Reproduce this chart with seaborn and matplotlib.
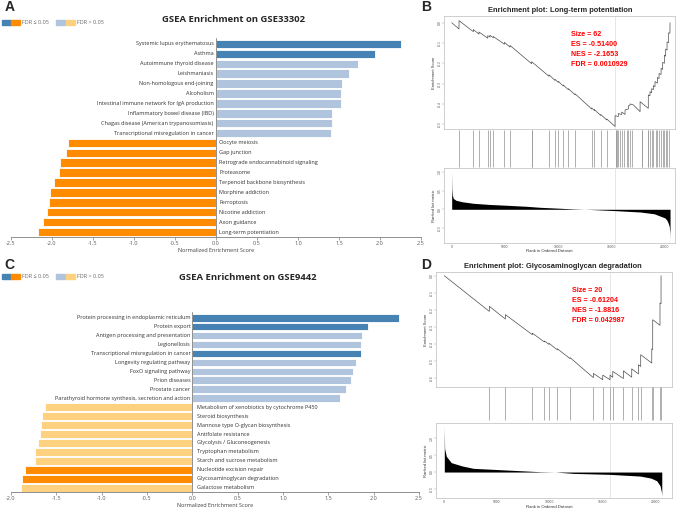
import matplotlib
matplotlib.use('Agg')
import matplotlib.pyplot as plt
import seaborn as sns
import pandas as pd
from matplotlib.patches import Patch
from matplotlib.legend_handler import HandlerTuple

# ---- panel A data (GSE33302) ----
terms_a = ['Systemic lupus erythematosus', 'Asthma', 'Autoimmune thyroid disease', 'Leishmaniasis',
           'Non-homologous end-joining', 'Alcoholism', 'Intestinal immune network for IgA production',
           'Inflammatory bowel disease (IBD)', 'Chagas disease (American trypanosomiasis)',
           'Transcriptional misregulation in cancer',
           'Oocyte meiosis', 'Gap junction', 'Retrograde endocannabinoid signaling', 'Proteasome',
           'Terpenoid backbone biosynthesis', 'Morphine addiction', 'Ferroptosis', 'Nicotine addiction',
           'Axon guidance', 'Long-term potentiation']
nes_a = [2.26, 1.94, 1.73, 1.62, 1.54, 1.53, 1.52, 1.41, 1.41, 1.40,
         -1.81, -1.83, -1.90, -1.91, -1.98, -2.03, -2.04, -2.06, -2.11, -2.17]
sig_a = [True, True, False, False, False, False, False, False, False, False,
         True, True, True, True, True, True, True, True, True, True]

# ---- panel C data (GSE9442) ----
terms_c = ['Protein processing in endoplasmic reticulum', 'Protein export', 'Antigen processing and presentation',
           'Legionellosis', 'Transcriptional misregulation in cancer', 'Longevity regulating pathway',
           'FoxO signaling pathway', 'Prion diseases', 'Prostate cancer',
           'Parathyroid hormone synthesis, secretion and action',
           'Metabolism of xenobiotics by cytochrome P450', 'Steroid biosynthesis',
           'Mannose type O-glycan biosynthesis', 'Antifolate resistance', 'Glycolysis / Gluconeogenesis',
           'Tryptophan metabolism', 'Starch and sucrose metabolism', 'Nucleotide excision repair',
           'Glycosaminoglycan degradation', 'Galactose metabolism']
nes_c = [2.28, 1.94, 1.87, 1.86, 1.86, 1.81, 1.77, 1.75, 1.69, 1.63,
         -1.63, -1.66, -1.67, -1.68, -1.70, -1.74, -1.74, -1.85, -1.88, -1.89]
sig_c = [True, True, False, False, True, False, False, False, False, False,
         False, False, False, False, False, False, False, True, True, False]

# ---- panel B data: Long-term potentiation ----
es_rank_b = [0, 685, 686, 2030, 2031, 2560, 2561, 3380, 3381, 3590, 3591, 3900, 3901, 4940, 4941,
             5470, 5471, 7500, 7501, 9130, 9131, 9690, 9691, 10000, 10001, 10470, 10471, 10940, 10941,
             11570, 11571, 13130, 13131, 13380, 13381, 13980, 13981, 14540, 14541, 15320, 15321,
             15630, 15631, 15950, 15951, 16260, 16261, 16570, 16571, 16730, 16731, 17040, 17670, 17671,
             18440, 18441, 18600, 18601, 18760, 18761, 18910, 18911, 19070, 19071, 19290, 19291,
             19450, 19451, 19640, 19641, 19790, 19791, 19950, 19951, 20070, 20071, 20200, 20201,
             20350, 20351, 20470, 20480]
es_val_b = [0.000, -0.031, 0.010, -0.044, -0.034, -0.056, -0.046, -0.076, -0.064, -0.071, -0.062,
            -0.074, -0.068, -0.106, -0.097, -0.120, -0.112, -0.202, -0.192, -0.264, -0.257, -0.284,
            -0.279, -0.294, -0.289, -0.312, -0.307, -0.330, -0.325, -0.355, -0.350, -0.425, -0.420,
            -0.432, -0.428, -0.457, -0.452, -0.479, -0.474, -0.511, -0.458, -0.462, -0.448, -0.452,
            -0.440, -0.452, -0.430, -0.425, -0.410, -0.405, -0.400, -0.405, -0.438, -0.389, -0.422,
            -0.356, -0.360, -0.340, -0.345, -0.325, -0.330, -0.310, -0.315, -0.290, -0.298, -0.270,
            -0.275, -0.250, -0.255, -0.225, -0.230, -0.195, -0.200, -0.160, -0.165, -0.130, -0.135,
            -0.095, -0.098, -0.050, -0.052, 0.000]
hits_b = [685, 2030, 2560, 3380, 3590, 3900, 4940, 5470, 7500, 7520, 9130, 9690, 10000, 10470, 10940,
          11570, 13130, 13380, 13980, 14540, 15380, 15400, 15480, 15630, 15790, 15980, 16190, 16420,
          16570, 16730, 16940, 17820, 17840, 18440, 18460, 18600, 18760, 18910, 19140, 19290, 19450,
          19640, 19790, 19950, 20070, 20200, 20350]
met_rank_b = [0, 20, 60, 150, 400, 1000, 2030, 3500, 5160, 7000, 8280, 10000, 11400, 13000, 15350,
              17670, 19000, 19540, 20000, 20170, 20300, 20410, 20470, 20480]
met_val_b = [1.00, 0.55, 0.38, 0.29, 0.24, 0.20, 0.16, 0.13, 0.107, 0.08, 0.053, 0.03, 0.01, -0.005,
             -0.036, -0.072, -0.12, -0.18, -0.23, -0.285, -0.36, -0.46, -0.65, -0.86]
zero_b = 15350
stats_b = ['Size = 62', 'ES = -0.51400', 'NES = -2.1653', 'FDR = 0.0010929']

# ---- panel D data: Glycosaminoglycan degradation ----
es_rank_d = [0, 4270, 4271, 5790, 5791, 8350, 8351, 9490, 9491, 9930, 9931, 10720, 10721, 11930, 11931,
             14140, 14141, 15030, 15031, 15720, 15721, 15980, 15981, 16990, 16991, 17780, 17781,
             18410, 18411, 18630, 18631, 19680, 19681, 19770, 19771, 20460, 20461, 20560, 20561]
es_val_d = [0.0, -0.210, -0.180, -0.255, -0.229, -0.347, -0.338, -0.390, -0.384, -0.404, -0.398,
            -0.436, -0.430, -0.488, -0.482, -0.600, -0.575, -0.612, -0.585, -0.612, -0.585, -0.598,
            -0.563, -0.605, -0.560, -0.597, -0.548, -0.578, -0.524, -0.534, -0.465, -0.514, -0.431,
            -0.435, -0.259, -0.292, -0.161, -0.165, 0.0]
hits_d = [4270, 5790, 8350, 9490, 9930, 10720, 11930, 14140, 15030, 15720, 15980, 16990, 17780,
          18410, 18630, 19680, 19770, 20460, 20560]
met_rank_d = [0, 30, 190, 660, 1710, 2750, 5920, 9080, 10500, 12240, 15720, 18570, 19600, 20150,
              20470, 20600, 20630]
met_val_d = [1.35, 0.70, 0.47, 0.28, 0.18, 0.11, 0.06, 0.01, 0.0, -0.04, -0.07, -0.12, -0.18, -0.26,
             -0.41, -0.60, -0.71]
zero_d = 15720
stats_d = ['Size = 20', 'ES = -0.61204', 'NES = -1.8816', 'FDR = 0.042987']

DARK_BLUE, LIGHT_BLUE = '#4682B4', '#B0C4DE'
DARK_ORANGE, LIGHT_ORANGE = '#FF8C00', '#FDD17F'

sns.set_style('white')
plt.rcParams['font.family'] = ['Open Sans', 'DejaVu Sans']
plt.rcParams['axes.unicode_minus'] = False

W, H = 681, 509
fig = plt.figure(figsize=(W / 100, H / 100), dpi=100)


def rect(l, t, r, b):
    return [l / W, 1 - b / H, (r - l) / W, (b - t) / H]


def draw_bars(ax, terms, nes, sig, xlim, ylim, ticks, off):
    pal = {}
    for t, v, s in zip(terms, nes, sig):
        if v > 0:
            pal[t] = DARK_BLUE if s else LIGHT_BLUE
        else:
            pal[t] = DARK_ORANGE if s else LIGHT_ORANGE
    df = pd.DataFrame({'term': terms, 'nes': nes})
    sns.barplot(data=df, x='nes', y='term', hue='term', palette=pal, orient='h', width=0.86,
                saturation=1, edgecolor='white', linewidth=0.6, legend=False, ax=ax)
    ax.set_xlim(xlim)
    ax.set_ylim(ylim)
    ax.axvline(0, color='#7f7f7f', lw=0.6)
    for i, (t, v) in enumerate(zip(terms, nes)):
        if v > 0:
            ax.text(-off[0], i, t, ha='right', va='center', fontsize=4, color='#333333')
        else:
            ax.text(off[1], i, t, ha='left', va='center', fontsize=4, color='#333333')
    ax.set_yticks([])
    ax.set_ylabel('')
    for s in ['top', 'right', 'left']:
        ax.spines[s].set_visible(False)
    ax.spines['bottom'].set_color('#7f7f7f')
    ax.spines['bottom'].set_linewidth(0.6)
    ax.set_xticks(ticks)
    ax.set_xticklabels([f'{t:.1f}' for t in ticks])
    ax.tick_params(axis='x', bottom=True, length=2, width=0.5, color='#7f7f7f', labelsize=4,
                   labelcolor='#595959', pad=1)
    ax.set_xlabel('Normalized Enrichment Score', fontsize=4, color='#404040', labelpad=1)


def draw_gsea(axes, es_rank, es_val, hits, met_rank, met_val, zero, xlim, es_ylim, es_ticks,
              met_ylim, hit_span, xlab_y):
    ax1, ax2, ax3 = axes
    frame = '#c8c8c8'
    sns.lineplot(x=es_rank, y=es_val, sort=False, estimator=None, color='#4d4d4d', lw=0.5, ax=ax1)
    ax1.axvline(zero, color='#dcdcdc', lw=0.5, zorder=0)
    ax1.set_xlim(xlim)
    ax1.set_ylim(es_ylim)
    ax1.set_xticks([])
    ax1.set_yticks(es_ticks)
    ax1.set_yticklabels([f'{t:.1f}' for t in es_ticks])
    ax1.set_ylabel('Enrichment Score', fontsize=3, labelpad=1, color='#333333',
                   family='Liberation Sans')

    ax2.vlines(hits, hit_span[0], hit_span[1], color='#9a9a9a', lw=0.55)
    ax2.set_xlim(xlim)
    ax2.set_ylim(0, 1)
    ax2.axis('off')

    ax3.fill_between(met_rank, met_val, 0, color='black', lw=0)
    ax3.axvline(zero, color='#dcdcdc', lw=0.5, zorder=0)
    ax3.set_xlim(xlim)
    ax3.set_ylim(met_ylim)
    ax3.set_yticks([1.0, 0.5, 0.0, -0.5])
    ax3.set_yticklabels(['1.0', '0.5', '0.0', '-0.5'])
    ax3.set_xticks([0, 5000, 10000, 15000, 20000])
    ax3.set_xticklabels(['0', '5000', '10000', '15000', '20000'])
    ax3.set_ylabel('Ranked list metric', fontsize=3, labelpad=1, color='#333333',
                   family='Liberation Sans')
    fig.text(549 / W, 1 - xlab_y / H, 'Rank in Ordered Dataset', ha='center', va='bottom',
             fontsize=3.1, color='#333333', family='Liberation Sans')
    for ax in (ax1, ax3):
        for s in ax.spines.values():
            s.set_color(frame)
            s.set_linewidth(0.6)
        ax.tick_params(length=1.2, width=0.3, color='#999999', labelsize=2.4, labelcolor='#555555',
                       pad=0.6, left=True, bottom=True)
        ax.tick_params(axis='y', labelrotation=90)
        for lab in ax.get_xticklabels() + ax.get_yticklabels():
            lab.set_family('Liberation Sans')
        for lab in ax.get_yticklabels():
            lab.set_va('center')
    ax3.tick_params(axis='x', length=1, pad=0.3)


# panel A
axA = fig.add_axes(rect(11, 38, 421, 237))
draw_bars(axA, terms_a, nes_a, sig_a, (-2.5, 2.5), (19.505, -0.606),
          [-2.5, -2.0, -1.5, -1.0, -0.5, 0.0, 0.5, 1.0, 1.5, 2.0, 2.5], (0.03, 0.04))
# panel C
axC = fig.add_axes(rect(11, 312, 419, 492))
draw_bars(axC, terms_c, nes_c, sig_c, (-2.0, 2.5), (19.48, -0.637),
          [-2.0, -1.5, -1.0, -0.5, 0.0, 0.5, 1.0, 1.5, 2.0, 2.5], (0.02, 0.05))

# panel B
axesB = [fig.add_axes(rect(444, 16, 675, 129)), fig.add_axes(rect(444, 129, 675, 168)),
         fig.add_axes(rect(444, 168, 675, 243))]
draw_gsea(axesB, es_rank_b, es_val_b, hits_b, met_rank_b, met_val_b, zero_b, (-722, 20946),
          (-0.5236, 0.033), [0.0, -0.1, -0.2, -0.3, -0.4, -0.5], (-0.899, 1.101), (0.03, 0.97), 253.5)
# panel D
axesD = [fig.add_axes(rect(436, 272, 672, 387)), fig.add_axes(rect(436, 387, 672, 423)),
         fig.add_axes(rect(436, 423, 672, 498))]
draw_gsea(axesD, es_rank_d, es_val_d, hits_d, met_rank_d, met_val_d, zero_d, (-788, 21600),
          (-0.655, 0.0218), [0.0, -0.1, -0.2, -0.3, -0.4, -0.5, -0.6], (-0.774, 1.462), (0.08, 0.99),
          508.8)

# titles
fig.text(234 / W, 1 - 20 / H, 'GSEA Enrichment on GSE33302', ha='center', va='center',
         fontsize=6.8, fontweight='bold', color='#262626')
fig.text(248 / W, 1 - 278 / H, 'GSEA Enrichment on GSE9442', ha='center', va='center',
         fontsize=6.8, fontweight='bold', color='#262626')
fig.text(560.7 / W, 1 - 11 / H, 'Enrichment plot: Long-term potentiation', ha='center', va='center',
         fontsize=5.4, fontweight='bold', family='Liberation Sans')
fig.text(553.3 / W, 1 - 266 / H, 'Enrichment plot: Glycosaminoglycan degradation', ha='center',
         va='center', fontsize=5.4, fontweight='bold', family='Liberation Sans')

for i, s in enumerate(stats_b):
    fig.text(571 / W, 1 - (34.3 + 10 * i) / H, s, ha='left', va='center', fontsize=5.1,
             fontweight='bold', color='red', family='Liberation Sans')
for i, s in enumerate(stats_d):
    fig.text(571.5 / W, 1 - (290.7 + 10 * i) / H, s, ha='left', va='center', fontsize=5.1,
             fontweight='bold', color='red', family='Liberation Sans')

# panel letters
for lab, x, y in [('A', 9.5, 7), ('B', 426, 7), ('C', 9.5, 265), ('D', 426, 265)]:
    fig.text(x / W, 1 - y / H, lab, ha='center', va='center', fontsize=10, fontweight='bold',
             family='Liberation Sans')

# legends
for yc in (22.5, 276.7):
    handles = [(Patch(color=DARK_BLUE), Patch(color=DARK_ORANGE)),
               (Patch(color=LIGHT_BLUE), Patch(color=LIGHT_ORANGE))]
    fig.legend(handles=handles, labels=['FDR ≤ 0.05', 'FDR > 0.05'],
               handler_map={tuple: HandlerTuple(ndivide=None, pad=0.1)},
               loc='center left', bbox_to_anchor=(1.5 / W, 1 - yc / H), ncol=2, frameon=False,
               fontsize=4, handlelength=3.4, handleheight=0.9, handletextpad=0.3,
               columnspacing=1.3, borderaxespad=0, borderpad=0, labelcolor='#666666')

fig.savefig('out.png', dpi=100)
